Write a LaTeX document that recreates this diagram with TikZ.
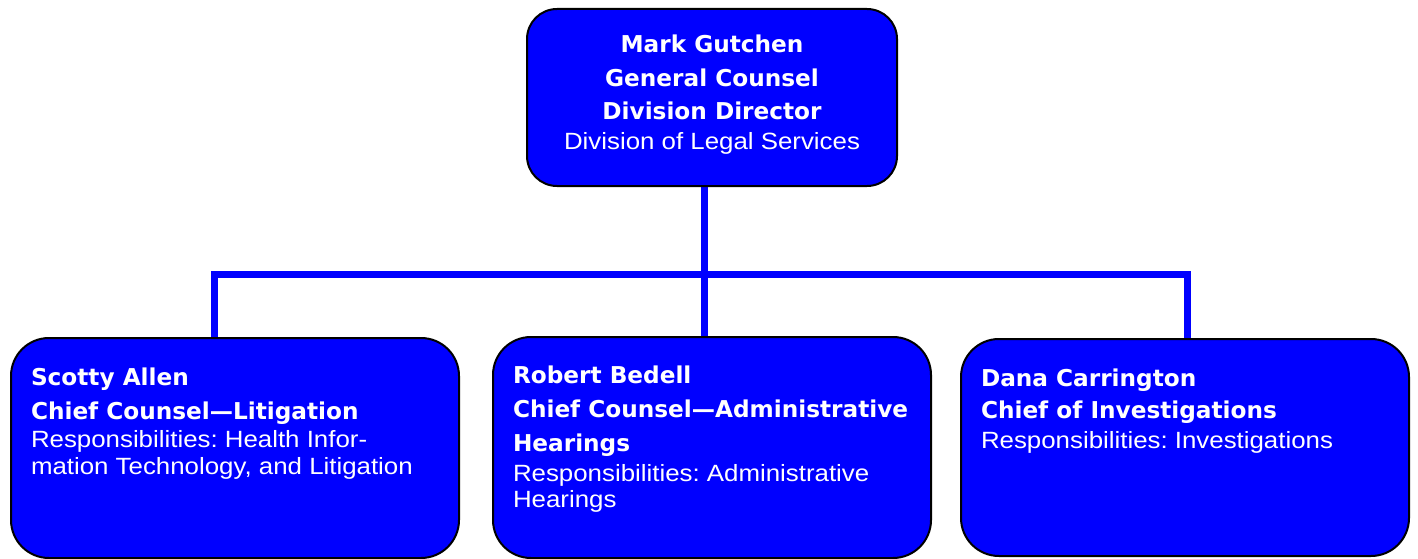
\documentclass[tikz,border=0pt]{standalone}
\usepackage{fontspec}
\setmainfont{Liberation Sans}[FakeStretch=1.1]
\newfontfamily\heavy{DejaVu Sans}[BoldFont={DejaVu Sans Bold}]
\definecolor{boxblue}{RGB}{0,0,255}
\frenchspacing
\tikzset{
  orgbox/.style={draw=black, line width=2pt, fill=boxblue, rounded corners=#1,
    inner sep=0pt, outer sep=0pt, anchor=north west},
  conn/.style={draw=boxblue, line width=7pt},
  txt/.style={text=white, inner sep=0pt, outer sep=0pt}
}
\newcommand{\hvy}[1]{\heavy\bfseries\fontsize{23.2}{#1}\selectfont}
\newcommand{\reg}[1]{\normalfont\fontsize{23.5}{#1}\selectfont}
\newcommand{\fixsp}{\setlength\parindent{0pt}\spaceskip=0pt\xspaceskip=0pt\frenchspacing\relax}
\newcommand{\ctr}{\leftskip=0pt plus 1fil\rightskip=0pt plus 1fil\parfillskip=0pt\relax}
\begin{document}
\begin{tikzpicture}[x=1pt,y=1pt]
\useasboundingbox (0,0) rectangle (1418,-559);
% boxes (geometry)
\path (527,-9) node[orgbox=30pt, minimum width=370pt, minimum height=177pt, draw=none, fill=none] (top) {};
\path (11,-338) node[orgbox=38pt, minimum width=448pt, minimum height=220pt, draw=none, fill=none] (left) {};
\path (493,-337) node[orgbox=38pt, minimum width=438pt, minimum height=221pt, draw=none, fill=none] (mid) {};
\path (961,-339) node[orgbox=38pt, minimum width=448pt, minimum height=217pt, draw=none, fill=none] (right) {};
% connectors
\coordinate (jL) at (214,-274);
\coordinate (jR) at (1187,-274);
\coordinate (jM) at ([xshift=-8pt]top.south);
\draw[conn] (jL |- left.north) -- (jL) -- (jR) -- (jR |- right.north);
\draw[conn] (jM) -- (jM |- mid.north);
% visible boxes
\node[orgbox=30pt, minimum width=370pt, minimum height=177pt] (topbox) at (top.north west) {};
\node[orgbox=38pt, minimum width=448pt, minimum height=220pt] (leftbox) at (left.north west) {};
\node[orgbox=38pt, minimum width=438pt, minimum height=221pt] (midbox) at (mid.north west) {};
\node[orgbox=38pt, minimum width=448pt, minimum height=217pt] (rightbox) at (right.north west) {};
% texts
\node[txt, anchor=north, text width=370pt] (ttop) at (712,-33) {%
  \fixsp\ctr
  \hvy{33.5}\rule{0pt}{20pt}Mark Gutchen\par
  General Counsel\par
  Division Director\par
  \reg{29.5}Division of Legal Services\par};
\node[txt, anchor=north west, text width=425pt, align=left] (tleft) at (31,-365) {%
  \fixsp
  \hvy{34}\rule{0pt}{20pt}Scotty Allen\par
  Chief Counsel—Litigation\par
  \reg{28}Responsibilities: Health Infor-\par
  \reg{27}mation Technology, and Litigation\par};
\node[txt, anchor=north west, text width=415pt, align=left] (tmid) at (513,-363) {%
  \fixsp
  \hvy{34}\rule{0pt}{20pt}Robert Bedell\par
  Chief Counsel—Administrative\par
  Hearings\par
  \reg{30}Responsibilities: Administrative\par
  \reg{26}Hearings\par};
\node[txt, anchor=north west, text width=425pt, align=left] (tright) at (981,-366) {%
  \fixsp
  \hvy{32}\rule{0pt}{20pt}Dana Carrington\par
  Chief of Investigations\par
  \reg{30}Responsibilities: Investigations\par};
\end{tikzpicture}
\end{document}
